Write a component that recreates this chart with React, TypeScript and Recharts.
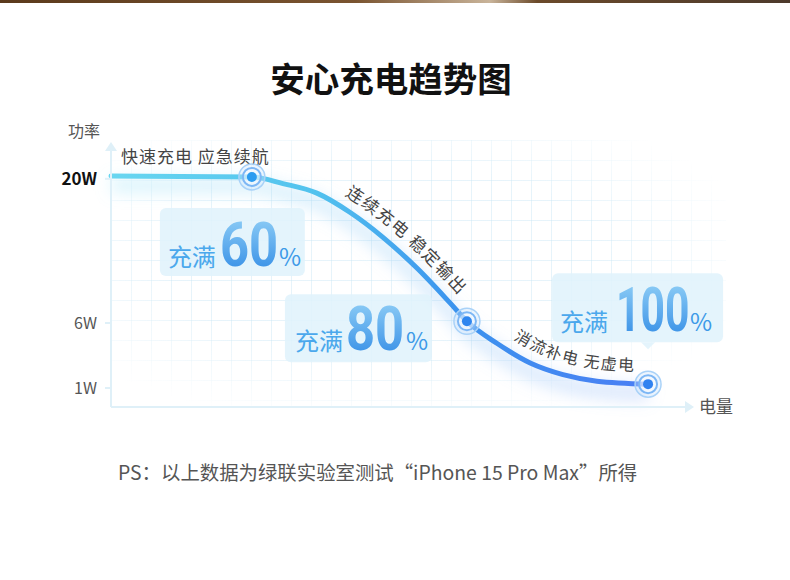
import React from 'react';
import { LineChart, Line, XAxis, YAxis } from 'recharts';

// 电量 (x, share of axis length) and 功率 (W)
const chargeLevel = [0, 24.5, 29.9, 35.8, 41.6, 47.3, 53.2, 59.0, 61.9, 67.1, 72.9, 78.6, 84.5, 93.4];
const powerWatts = [20.3, 20.2, 19.5, 18.5, 16.5, 14.0, 11.0, 7.75, 6.15, 4.3, 2.75, 1.9, 1.45, 1.25];
const powerTicks = [1, 6, 20];
const markerIndex = [1, 8, 13];
const fullPercent = ['60', '80', '100'];
const stageNotes = ['快速充电 应急续航', '连续充电 稳定输出', '消流补电 无虚电'];

const data = chargeLevel.map((c, i) => ({ charge: c, power: powerWatts[i] }));

const CJK = '"Noto Sans CJK SC", "Noto Sans", sans-serif';

// callout layout relative to its marker
const callouts = [
  { bx: -92, by: 31, bw: 145, bh: 68, tx: -84, base: 89, nx: -32, nw: 57, px: 27, tail: false, dot: '#2c9cf0' },
  { bx: -182, by: -27, bw: 147, bh: 68, tx: -172, base: 29, nx: -121, nw: 57, px: -61, tail: false, dot: '#2f86ef' },
  { bx: -96, by: -111, bw: 171, bh: 69, tx: -88, base: -53, nx: -32, nw: 72, px: 42, tail: true, dot: '#3182f0' },
];

// the power axis is drawn warped (like d3 scalePow), so build a small pow scale
function powScale(exponent: number, dom: number[] = [0, 1], rng: number[] = [0, 1]): any {
  const warp = (v: number) => Math.sign(v) * Math.pow(Math.abs(v), exponent);
  const unwarp = (v: number) => Math.sign(v) * Math.pow(Math.abs(v), 1 / exponent);
  const scale: any = (v: any) => {
    const d0 = warp(Number(dom[0]));
    const d1 = warp(Number(dom[dom.length - 1]));
    const r0 = Number(rng[0]);
    const r1 = Number(rng[rng.length - 1]);
    if (d1 === d0) return (r0 + r1) / 2;
    return r0 + ((warp(Number(v)) - d0) / (d1 - d0)) * (r1 - r0);
  };
  scale.domain = (...args: any[]) => {
    if (!args.length) return dom.slice();
    if (Array.isArray(args[0])) dom = args[0].map(Number);
    return scale;
  };
  scale.range = (...args: any[]) => {
    if (!args.length) return rng.slice();
    if (Array.isArray(args[0])) rng = args[0].map(Number);
    return scale;
  };
  scale.invert = (p: number) => {
    const d0 = warp(dom[0]);
    const d1 = warp(dom[dom.length - 1]);
    return unwarp(d0 + ((p - rng[0]) / (rng[rng.length - 1] - rng[0])) * (d1 - d0));
  };
  scale.ticks = () => powerTicks.slice();
  scale.tickFormat = () => (v: any) => String(v);
  scale.nice = () => scale;
  scale.clamp = () => scale;
  scale.copy = () => powScale(exponent, dom.slice(), rng.slice());
  return scale;
}

const yScale = powScale(0.83);

function offsetPath(pts: { x: number; y: number }[], d: number) {
  const off = pts.map((p, i) => {
    const a = pts[Math.max(0, i - 1)];
    const b = pts[Math.min(pts.length - 1, i + 1)];
    const tx = b.x - a.x;
    const ty = b.y - a.y;
    const len = Math.hypot(tx, ty) || 1;
    return { x: p.x + (ty / len) * d, y: p.y - (tx / len) * d };
  });
  let s = `M${off[0].x},${off[0].y} L${(off[0].x + off[1].x) / 2},${(off[0].y + off[1].y) / 2}`;
  for (let i = 1; i < off.length - 1; i++) {
    const mx = (off[i].x + off[i + 1].x) / 2;
    const my = (off[i].y + off[i + 1].y) / 2;
    s += ` Q${off[i].x},${off[i].y} ${mx},${my}`;
  }
  const last = off[off.length - 1];
  s += ` L${last.x},${last.y}`;
  return s;
}

const PowerTick = (props: any) => {
  const { x, y, payload } = props;
  const strong = payload.value === 20;
  return (
    <text
      x={x}
      y={y}
      dy={6}
      textAnchor="end"
      fontFamily={CJK}
      fontSize={strong ? 17 : 16}
      fontWeight={strong ? 700 : 400}
      fill={strong ? '#111' : '#555'}
    >
      {payload.value}W
    </text>
  );
};

const renderDot = (props: any) => {
  const { cx, cy, index, points } = props;
  const parts: React.ReactNode[] = [];

  if (index === 0) {
    parts.push(
      <text key="n0" x={cx + 10} y={cy - 13} fontFamily={CJK} fontSize={17} letterSpacing={1} fill="#444">
        {stageNotes[0]}
      </text>
    );
  }

  if (index === data.length - 1 && Array.isArray(points)) {
    const p1 = offsetPath(points.slice(2, 9), 12);
    const p2 = offsetPath(points.slice(8, 14), 12);
    parts.push(
      <g key="paths">
        <path id="notePath1" d={p1} fill="none" />
        <path id="notePath2" d={p2} fill="none" />
        <text fontFamily={CJK} fontSize={17} fill="#444" letterSpacing={1.5}>
          <textPath href="#notePath1" startOffset={63}>{stageNotes[1]}</textPath>
        </text>
        <text fontFamily={CJK} fontSize={16} fill="#444" letterSpacing={1.5}>
          <textPath href="#notePath2" startOffset={48}>{stageNotes[2]}</textPath>
        </text>
      </g>
    );
  }

  const k = markerIndex.indexOf(index);
  if (k >= 0) {
    const c = callouts[k];
    const top = cy + c.by;
    const digits = fullPercent[k];
    const squeeze = c.nw / (digits.length * 0.562 * 62);
    parts.push(
      <g key="callout">
        <rect x={cx + c.bx} y={top} width={c.bw} height={c.bh} rx={6} fill="#dff2fc" fillOpacity={0.85} />
        {c.tail && (
          <polygon
            points={`${cx - 7},${top + c.bh} ${cx + 7},${top + c.bh} ${cx},${top + c.bh + 7}`}
            fill="#dff2fc"
            fillOpacity={0.85}
          />
        )}
        <text x={cx + c.tx} y={cy + c.base} fontFamily={CJK} fontSize={24} fill="#4ba8ec">
          充满
        </text>
        <text
          transform={`translate(${cx + c.nx},${cy + c.base}) scale(${squeeze},1)`}
          fontFamily="Roboto, sans-serif"
          fontWeight={700}
          fontSize={62}
          fill="url(#digitGrad)"
        >
          {digits}
        </text>
        <text x={cx + c.px} y={cy + c.base} fontFamily={CJK} fontSize={24} fill="#3d9ae8">
          %
        </text>
      </g>
    );
    parts.push(
      <g key="ring">
        <circle cx={cx} cy={cy} r={13} fill="#cfe6fc" fillOpacity={0.35} stroke="#a9d2f8" strokeWidth={1.5} />
        <circle cx={cx} cy={cy} r={9} fill="#ffffff" fillOpacity={0.45} stroke="#7db7f5" strokeWidth={2} />
        <circle cx={cx} cy={cy} r={5} fill={c.dot} />
      </g>
    );
  }

  return <g key={`dot-${index}`}>{parts}</g>;
};

const YLabel = (props: any) => {
  const { x, y, width } = props.viewBox;
  const ax = x + width;
  return (
    <g>
      <polygon points={`${ax},${y - 6} ${ax - 6},${y + 3} ${ax + 6},${y + 3}`} fill="#dff0f8" />
      <text x={ax - 27} y={y - 11} textAnchor="middle" fontFamily={CJK} fontSize={16} fill="#555">
        功率
      </text>
    </g>
  );
};

const XLabel = (props: any) => {
  const { x, y, width } = props.viewBox;
  const ex = x + width;
  return (
    <g>
      <polygon points={`${ex + 8},${y} ${ex - 1},${y - 6} ${ex - 1},${y + 6}`} fill="#dff0f8" />
      <text x={ex + 13} y={y + 6} fontFamily={CJK} fontSize={17} fill="#555">
        电量
      </text>
    </g>
  );
};

export default function App() {
  return (
    <div
      style={{
        position: 'absolute',
        left: 0,
        top: 0,
        width: 790,
        height: 580,
        background: '#ffffff',
        overflow: 'hidden',
        fontFamily: CJK,
      }}
    >
      <div
        style={{
          position: 'absolute',
          left: 0,
          top: 0,
          width: 790,
          height: 3,
          background: 'linear-gradient(90deg, #5b3a1c 0%, #7a5430 45%, #c9b49a 62%, #6b4a2a 68%, #4d3a2c 100%)',
        }}
      />
      <div
        style={{
          position: 'absolute',
          left: 111,
          top: 140,
          width: 615,
          height: 268,
          backgroundImage:
            'linear-gradient(rgba(200,230,245,0.45) 1px, transparent 1px), linear-gradient(90deg, rgba(200,230,245,0.45) 1px, transparent 1px)',
          backgroundSize: '20px 20px',
          WebkitMaskImage: 'radial-gradient(ellipse at 45% 45%, #000 45%, transparent 80%)',
          maskImage: 'radial-gradient(ellipse at 45% 45%, #000 45%, transparent 80%)',
        }}
      />
      <div
        style={{
          position: 'absolute',
          left: 0,
          top: 55,
          width: 782,
          textAlign: 'center',
          fontSize: 34.5,
          lineHeight: '44px',
          fontWeight: 700,
          color: '#111',
        }}
      >
        安心充电趋势图
      </div>
      <div style={{ position: 'absolute', left: 0, top: 0 }}>
        <LineChart width={790} height={580} data={data} margin={{ top: 148, right: 104, bottom: 153, left: 61 }}>
          <defs>
            <linearGradient id="curveGrad" x1="0" y1="0" x2="1" y2="0">
              <stop offset="0%" stopColor="#68d6f0" />
              <stop offset="38%" stopColor="#52c2ee" />
              <stop offset="64%" stopColor="#3b93ee" />
              <stop offset="100%" stopColor="#4b7ef4" />
            </linearGradient>
            <linearGradient id="glowGrad" x1="0" y1="0" x2="1" y2="0">
              <stop offset="0%" stopColor="#8fe0f6" />
              <stop offset="100%" stopColor="#8ab0f7" />
            </linearGradient>
            <linearGradient id="digitGrad" x1="0" y1="0" x2="0" y2="1">
              <stop offset="0%" stopColor="#9ad6f8" />
              <stop offset="100%" stopColor="#2a86e4" />
            </linearGradient>
            <filter id="glow" x="-20%" y="-40%" width="140%" height="180%">
              <feGaussianBlur stdDeviation="8" />
              <feOffset dy="9" />
            </filter>
          </defs>
          <XAxis
            dataKey="charge"
            type="number"
            domain={[0, 100]}
            height={20}
            tick={false}
            tickLine={false}
            axisLine={{ stroke: '#dff0f8', strokeWidth: 2 }}
            label={<XLabel />}
          />
          <YAxis
            type="number"
            domain={[0, 23.3]}
            scale={yScale}
            ticks={powerTicks}
            interval={0}
            width={50}
            tickSize={6}
            tickMargin={8}
            tick={<PowerTick />}
            tickLine={{ stroke: '#dff0f8', strokeWidth: 2 }}
            axisLine={{ stroke: '#dff0f8', strokeWidth: 2 }}
            label={<YLabel />}
          />
          <Line
            type="monotone"
            dataKey="power"
            stroke="url(#glowGrad)"
            strokeWidth={14}
            strokeOpacity={0.35}
            filter="url(#glow)"
            dot={false}
            activeDot={false}
            isAnimationActive={false}
          />
          <Line
            type="monotone"
            dataKey="power"
            stroke="url(#curveGrad)"
            strokeWidth={5}
            strokeLinecap="round"
            dot={renderDot}
            activeDot={false}
            isAnimationActive={false}
          />
        </LineChart>
      </div>
      <div
        style={{
          position: 'absolute',
          left: 118,
          top: 459,
          fontSize: 19.4,
          lineHeight: '26px',
          color: '#555',
          whiteSpace: 'nowrap',
        }}
      >
        PS：以上数据为绿联实验室测试“iPhone 15 Pro Max”所得
      </div>
    </div>
  );
}
